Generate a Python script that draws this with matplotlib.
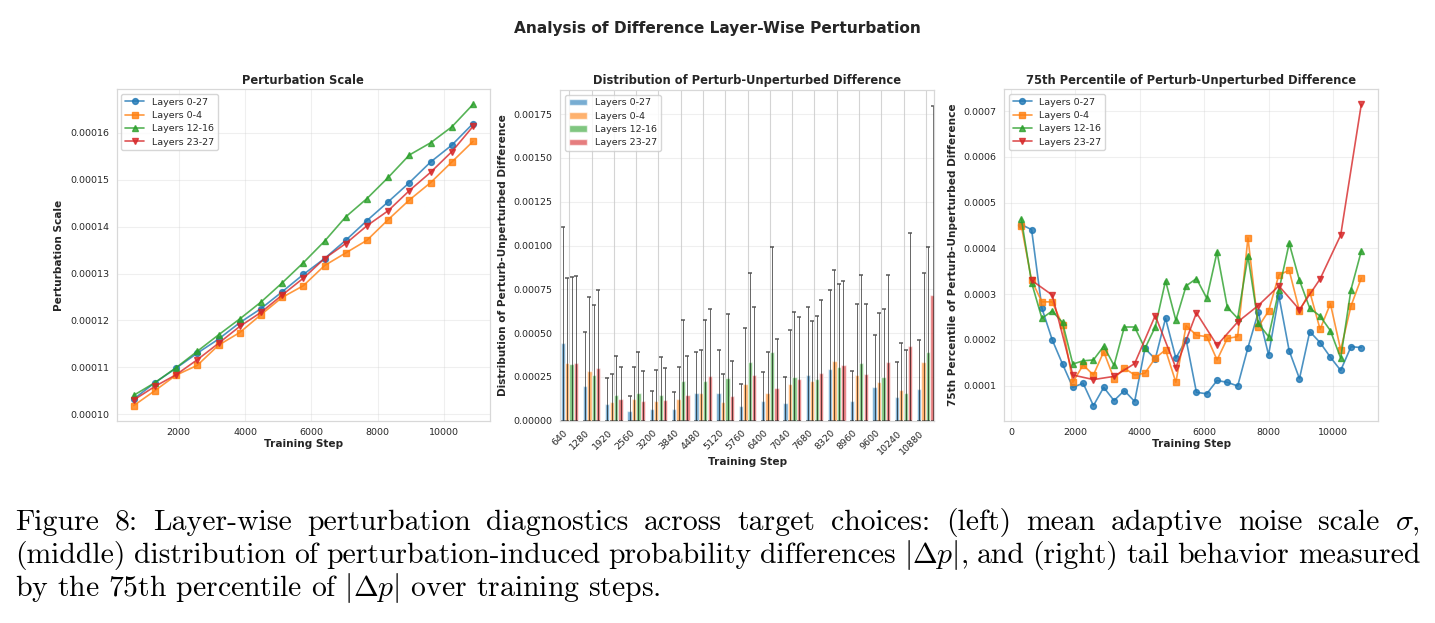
import numpy as np
import matplotlib
matplotlib.use("Agg")
import matplotlib.pyplot as plt
import seaborn as sns

# ---------------- data ----------------
series_names = ["Layers 0-27", "Layers 0-4", "Layers 12-16", "Layers 23-27"]
series_colors = ["#1f77b4", "#ff7f0e", "#2ca02c", "#d62728"]
series_markers = ["o", "s", "^", "v"]

steps_640 = [640, 1280, 1920, 2560, 3200, 3840, 4480, 5120, 5760, 6400,
             7040, 7680, 8320, 8960, 9600, 10240, 10880]
steps_320 = [320, 640, 960, 1280, 1600, 1920, 2240, 2560, 2880, 3200, 3520,
             3840, 4160, 4480, 4800, 5120, 5440, 5760, 6080, 6400, 6720, 7040,
             7360, 7680, 8000, 8320, 8640, 8960, 9280, 9600, 9920, 10240,
             10560, 10880]

# Perturbation scale (left)
scale_0_27 = [1.032e-4, 1.067e-4, 1.098e-4, 1.130e-4, 1.160e-4, 1.195e-4, 1.225e-4,
              1.261e-4, 1.298e-4, 1.332e-4, 1.371e-4, 1.413e-4, 1.453e-4, 1.494e-4,
              1.538e-4, 1.574e-4, 1.620e-4]
scale_0_4 = [1.018e-4, 1.050e-4, 1.083e-4, 1.104e-4, 1.147e-4, 1.174e-4, 1.212e-4,
             1.249e-4, 1.274e-4, 1.317e-4, 1.344e-4, 1.371e-4, 1.415e-4, 1.457e-4,
             1.494e-4, 1.538e-4, 1.582e-4]
scale_12_16 = [1.040e-4, 1.067e-4, 1.099e-4, 1.134e-4, 1.169e-4, 1.203e-4, 1.239e-4,
               1.280e-4, 1.323e-4, 1.369e-4, 1.421e-4, 1.460e-4, 1.505e-4, 1.553e-4,
               1.579e-4, 1.613e-4, 1.661e-4]
scale_23_27 = [1.030e-4, 1.059e-4, 1.084e-4, 1.116e-4, 1.151e-4, 1.187e-4, 1.217e-4,
               1.254e-4, 1.290e-4, 1.332e-4, 1.364e-4, 1.402e-4, 1.434e-4, 1.477e-4,
               1.516e-4, 1.560e-4, 1.614e-4]

# 75th percentile of |dp| (right); red logged every 640 steps only
p75_0_27 = [4.52e-4, 4.41e-4, 2.69e-4, 2.00e-4, 1.47e-4, 0.96e-4, 1.05e-4, 0.56e-4,
            0.96e-4, 0.67e-4, 0.89e-4, 0.65e-4, 1.81e-4, 1.58e-4, 2.47e-4, 1.60e-4,
            2.00e-4, 0.85e-4, 0.82e-4, 1.11e-4, 1.07e-4, 0.99e-4, 1.83e-4, 2.60e-4,
            1.67e-4, 2.96e-4, 1.76e-4, 1.15e-4, 2.18e-4, 1.94e-4, 1.62e-4, 1.33e-4,
            1.85e-4, 1.83e-4]
p75_0_4 = [4.50e-4, 3.30e-4, 2.83e-4, 2.83e-4, 2.32e-4, 1.07e-4, 1.45e-4, 1.23e-4,
           1.74e-4, 1.15e-4, 1.38e-4, 1.23e-4, 1.27e-4, 1.60e-4, 1.78e-4, 1.07e-4,
           2.31e-4, 2.10e-4, 2.07e-4, 1.56e-4, 2.03e-4, 2.07e-4, 4.23e-4, 2.28e-4,
           2.63e-4, 3.42e-4, 3.52e-4, 2.63e-4, 3.05e-4, 2.23e-4, 2.79e-4, 1.78e-4,
           2.74e-4, 3.35e-4]
p75_12_16 = [4.65e-4, 3.25e-4, 2.47e-4, 2.63e-4, 2.38e-4, 1.47e-4, 1.54e-4, 1.56e-4,
             1.86e-4, 1.44e-4, 2.28e-4, 2.28e-4, 1.81e-4, 2.28e-4, 3.29e-4, 2.43e-4,
             3.18e-4, 3.34e-4, 2.91e-4, 3.92e-4, 2.71e-4, 2.47e-4, 3.83e-4, 2.36e-4,
             2.07e-4, 3.08e-4, 4.11e-4, 3.30e-4, 2.69e-4, 2.52e-4, 2.20e-4, 1.60e-4,
             3.10e-4, 3.94e-4]
p75_23_27 = [3.30e-4, 2.98e-4, 1.23e-4, 1.13e-4, 1.20e-4, 1.48e-4, 2.53e-4, 1.39e-4,
             2.59e-4, 1.88e-4, 2.39e-4, 2.75e-4, 3.18e-4, 2.66e-4, 3.33e-4, 4.29e-4,
             7.15e-4]

# max of |dp| (error-bar tops, middle)
max_0_27 = [1.107e-3, 5.06e-4, 2.44e-4, 1.41e-4, 1.67e-4, 1.61e-4, 3.93e-4, 4.03e-4,
            2.12e-4, 2.78e-4, 2.48e-4, 6.51e-4, 7.44e-4, 2.86e-4, 4.92e-4, 3.37e-4, 4.60e-4]
max_0_4 = [8.15e-4, 7.08e-4, 2.66e-4, 3.08e-4, 2.88e-4, 3.08e-4, 4.03e-4, 2.66e-4,
           5.28e-4, 3.93e-4, 5.18e-4, 5.71e-4, 8.61e-4, 6.65e-4, 6.15e-4, 4.46e-4, 8.43e-4]
max_12_16 = [8.23e-4, 6.63e-4, 3.69e-4, 3.93e-4, 3.61e-4, 5.77e-4, 5.77e-4, 6.11e-4,
             8.45e-4, 9.92e-4, 6.19e-4, 5.99e-4, 7.80e-4, 8.33e-4, 6.35e-4, 4.05e-4, 9.92e-4]
max_23_27 = [8.25e-4, 7.46e-4, 3.08e-4, 2.82e-4, 3.02e-4, 3.69e-4, 6.35e-4, 3.43e-4,
             6.47e-4, 4.68e-4, 5.93e-4, 6.88e-4, 7.98e-4, 6.65e-4, 8.33e-4, 1.073e-3, 1.798e-3]

suptitle = "Analysis of Difference Layer-Wise Perturbation"
caption_lines = [
    r"Figure 8: Layer-wise perturbation diagnostics across target choices: (left) mean adaptive noise scale $\sigma$,",
    r"(middle) distribution of perturbation-induced probability differences $|\Delta{p}|$, and (right) tail behavior measured",
    r"by the 75th percentile of $|\Delta{p}|$ over training steps.",
]

# ---------------- style ----------------
sns.set_style("whitegrid")
plt.rcParams["font.family"] = ["DejaVu Sans"]
plt.rcParams["mathtext.fontset"] = "cm"
plt.rcParams["axes.linewidth"] = 0.9

TICK = 6.8
LAB = 7.6
TIT = 8.3
TXT = "#262626"

fig = plt.figure(figsize=(14.35, 6.23), dpi=100)
W, H = 1435.0, 623.0


def px_axes(x0, y0, x1, y1):
    return fig.add_axes([x0 / W, 1 - y1 / H, (x1 - x0) / W, (y1 - y0) / H])


axL = px_axes(116.7, 89.3, 490.0, 420.7)
axM = px_axes(560.0, 90.0, 934.3, 420.7)
axR = px_axes(1004.3, 89.3, 1378.3, 420.7)

line_kw = dict(linewidth=1.2, markersize=4.2, alpha=0.8)

# left
scales = [scale_0_27, scale_0_4, scale_12_16, scale_23_27]
for vals, name, c, m in zip(scales, series_names, series_colors, series_markers):
    axL.plot(steps_640, vals, marker=m, color=c, label=name, **line_kw)
axL.set_title("Perturbation Scale", fontsize=TIT, fontweight="bold", color=TXT, pad=4)
axL.set_xlabel("Training Step", fontsize=LAB, fontweight="bold", color=TXT, labelpad=1)
axL.set_ylabel("Perturbation Scale", fontsize=LAB, fontweight="bold", color=TXT, labelpad=4)
axL.grid(True, alpha=0.3)

# middle
p75_all = [p75_0_27, p75_0_4, p75_12_16, p75_23_27]
bar_vals = [p75_0_27[1::2], p75_0_4[1::2], p75_12_16[1::2], p75_23_27]
max_vals = [max_0_27, max_0_4, max_12_16, max_23_27]
xpos = np.arange(len(steps_640))
bw = 0.2
for i, (bv, mv, name, c) in enumerate(zip(bar_vals, max_vals, series_names, series_colors)):
    bv = np.asarray(bv)
    mv = np.asarray(mv)
    xi = xpos + (i - 1.5) * bw
    axM.bar(xi, bv, width=bw * 0.97, color=c, alpha=0.6, label=name)
    axM.errorbar(xi, bv, yerr=[bv, mv - bv], fmt="none", ecolor="black",
                 elinewidth=0.7, capsize=1.6, capthick=1.2, alpha=0.6)
axM.set_xticks(xpos)
axM.set_xticklabels([str(s) for s in steps_640], rotation=45, ha="right")
axM.set_xlim(-0.42, len(steps_640) - 1 + 0.38)
axM.set_title("Distribution of Perturb-Unperturbed Difference", fontsize=TIT,
              fontweight="bold", color=TXT, pad=4)
axM.set_xlabel("Training Step", fontsize=LAB, fontweight="bold", color=TXT, labelpad=1)
axM.set_ylabel("Distribution of Perturb-Unperturbed Difference", fontsize=LAB,
               fontweight="bold", color=TXT, labelpad=4)
axM.grid(True, axis="y", alpha=0.3)
axM.grid(True, axis="x", color="#d4d4d4", alpha=1.0)

# right
xs_right = [steps_320, steps_320, steps_320, steps_640]
for xs, vals, name, c, m in zip(xs_right, p75_all, series_names, series_colors, series_markers):
    axR.plot(xs, vals, marker=m, color=c, label=name, **line_kw)
axR.set_title("75th Percentile of Perturb-Unperturbed Difference", fontsize=TIT,
              fontweight="bold", color=TXT, pad=4)
axR.set_xlabel("Training Step", fontsize=LAB, fontweight="bold", color=TXT, labelpad=1)
axR.set_ylabel("75th Percentile of Perturb-Unperturbed Difference", fontsize=LAB,
               fontweight="bold", color=TXT, labelpad=4)
axR.grid(True, alpha=0.3)

for ax in (axL, axM, axR):
    ax.tick_params(labelsize=TICK, colors=TXT, pad=2)
    for sp in ax.spines.values():
        sp.set_edgecolor("#d8d8d8")
    ax.legend(loc="upper left", fontsize=TICK, frameon=True, framealpha=0.8,
              borderpad=0.4, labelspacing=0.45, handlelength=2.0, fancybox=True)

fig.text(0.5, 1 - 28 / H, suptitle, ha="center", va="center", fontsize=11.1,
         fontweight="bold", color=TXT)

# caption, justified lines in serif
cap_kw = dict(fontsize=21.4, family="cmr10", color="black", va="baseline")
baselines = [530, 563, 596]
left_px, right_px = 15.0, 1420.0
renderer = fig.canvas.get_renderer()
for li, (line, bl) in enumerate(zip(caption_lines, baselines)):
    y = 1 - bl / H
    if li == len(caption_lines) - 1:
        fig.text(left_px / W, y, line, ha="left", **cap_kw)
        continue
    words = line.split(" ")
    objs = [fig.text(0, y, w_, ha="left", **cap_kw) for w_ in words]
    widths = [o.get_window_extent(renderer).width for o in objs]
    gap = (right_px - left_px - sum(widths)) / (len(words) - 1)
    x = left_px
    for o, wd in zip(objs, widths):
        o.set_x(x / W)
        x += wd + gap

fig.savefig("out.png", dpi=100)
